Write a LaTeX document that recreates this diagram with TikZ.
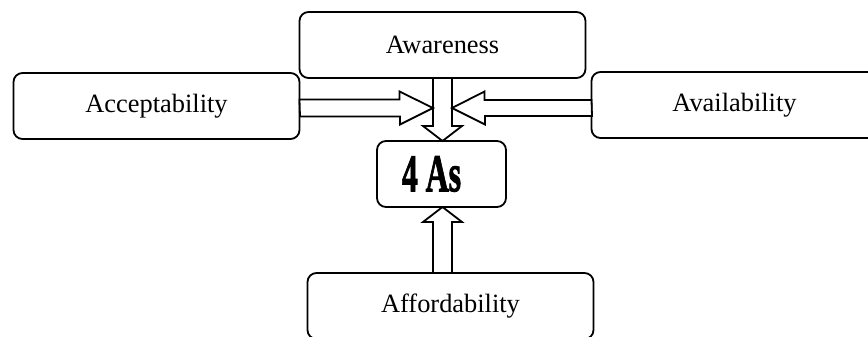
\documentclass[tikz,border=0pt]{standalone}
\usepackage{graphicx}
\usepackage{fontspec}
\setmainfont{Liberation Serif}
\newfontfamily\heavyfont[BoldFeatures={FakeBold=2}]{Liberation Serif}
\usetikzlibrary{calc}

\begin{document}
\begin{tikzpicture}[x=1pt, y=-1pt,
  box/.style={rectangle, rounded corners=9pt, draw, line width=1.8pt,
    minimum width=286pt, minimum height=66pt, outer sep=0pt, align=center,
    font=\fontsize{26.4}{30}\selectfont},
  hubbox/.style={box, minimum width=129pt},
  blk/.style={draw, line width=1.8pt, fill=white, line join=miter},
]
\useasboundingbox (0,0) rectangle (868,337);
\node[box] (aw) at (442.5,45) {Awareness};
\node[box] (ac) at (156.5,106) {Acceptability};
\node[box] (av) at (734.5,105) {Availability};
\node[hubbox] (four) at (441.5,174)
  {\hspace*{-20pt}\raisebox{-3pt}{\scalebox{0.6}[1]{\fontsize{53}{56}\heavyfont\bfseries 4 As}}};
\node[box] (af) at (450.5,306) {Affordability};
\coordinate (hub) at (442.5,108);
% block arrows into the centre
\draw[blk] (aw.south) ++(-9.5,0) -- ++(0,48) -- ++(-10,0) -- (aw.south |- four.north)
  -- ++(19.5,-15) -- ++(-10,0) -- ++(0,-48) -- cycle;
\draw[blk] (ac.east |- hub) ++(0,-8.5) -- ++(100,0) -- ++(0,-8) -- ($(hub)+(-9.5,0)$)
  -- ++(-33,16.5) -- ++(0,-8) -- ++(-100,0) -- cycle;
\draw[blk] (av.west |- hub) ++(0,-8) -- ++(-107,0) -- ++(0,-8.5) -- ($(hub)+(9.5,0)$)
  -- ++(33,16.5) -- ++(0,-8.5) -- ++(107,0) -- cycle;
\draw[blk] (hub |- af.north) ++(-9.5,0) -- ++(0,-51) -- ++(-10,0) -- (hub |- four.south)
  -- ++(19.5,15) -- ++(-10,0) -- ++(0,51) -- cycle;
\end{tikzpicture}
\end{document}
